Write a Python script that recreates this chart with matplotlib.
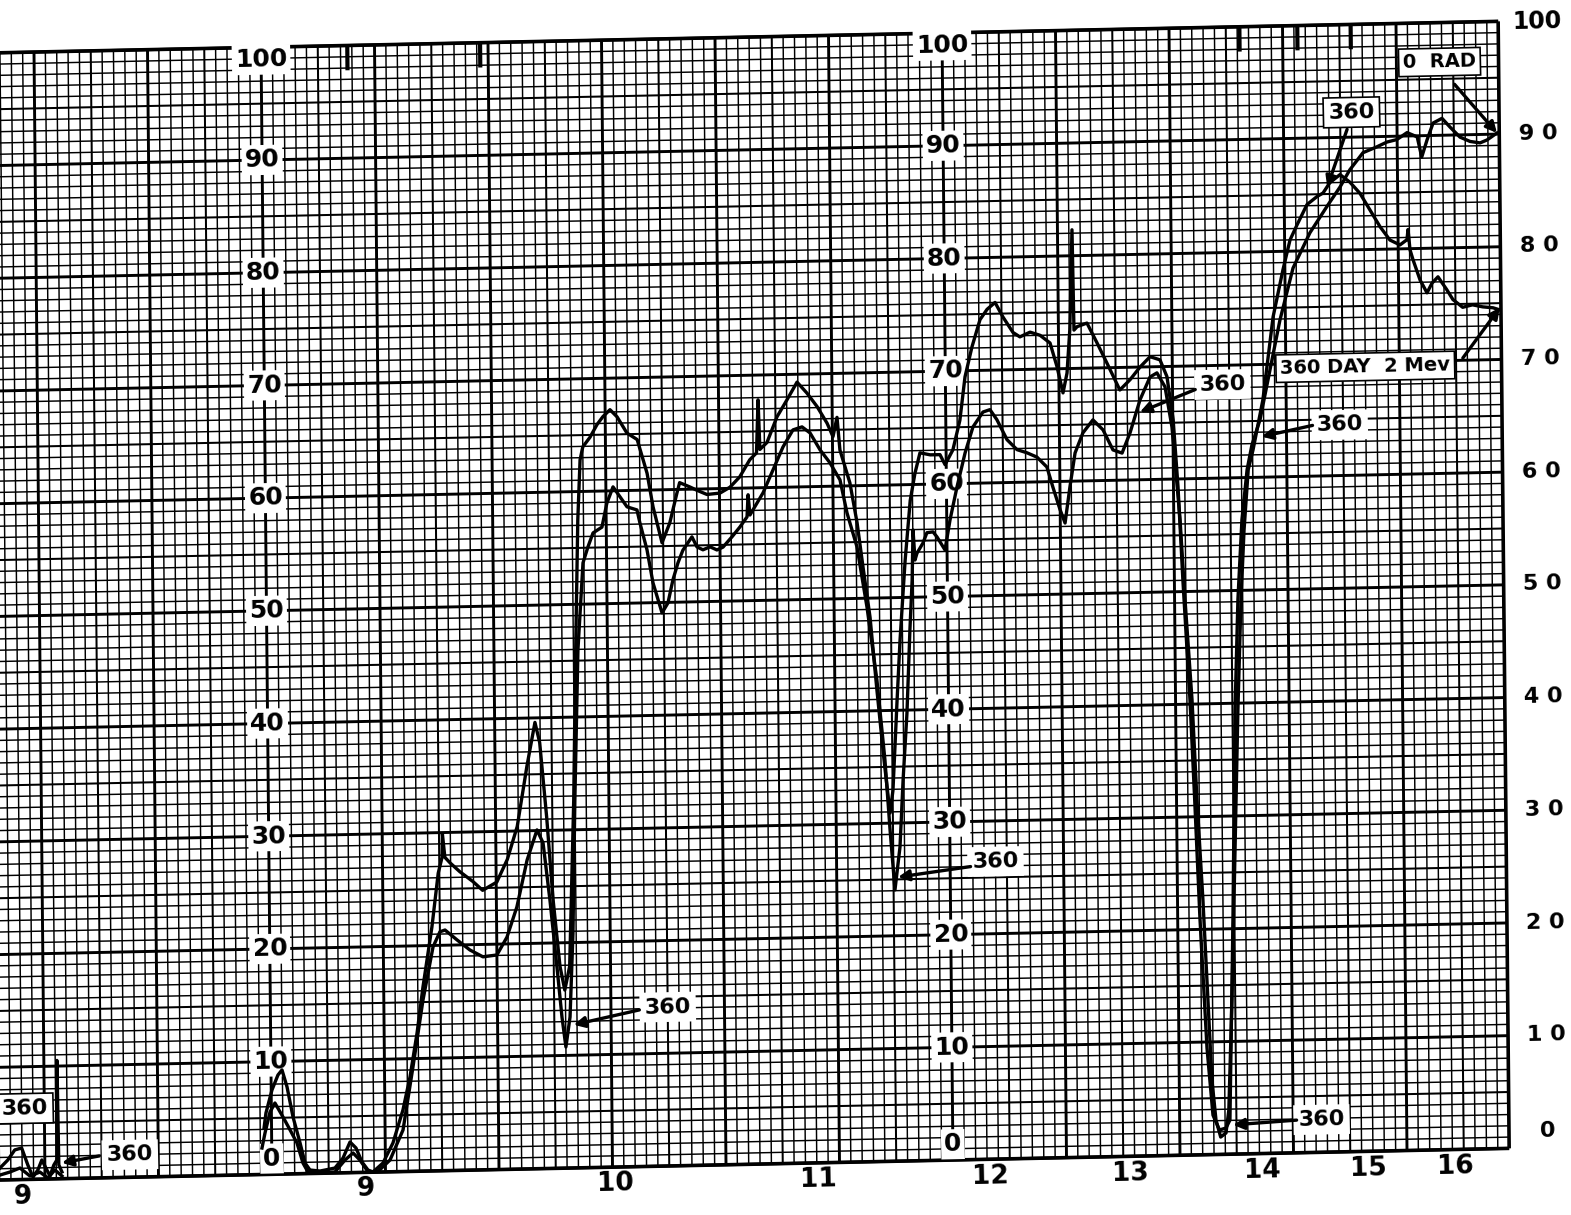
"""Strip-chart recording: two traces on 10x10 chart paper, redrawn with matplotlib.

The paper in the scan is slightly skewed, so every artist goes through the axes
data transform followed by a small display-space shear.
"""
import math

import matplotlib
matplotlib.use("Agg")
import matplotlib.pyplot as plt
import matplotlib.transforms as mtransforms
from matplotlib.collections import LineCollection

# ---------------------------------------------------------------------------
# data, in chart-paper units: u = minor divisions along the strip, v = percent
# ---------------------------------------------------------------------------
trace_a_u = [
    -0.66, -0.48, 0.07, 0.61, 0.97, 1.40, 1.90, 2.50, 2.92, 3.35,
    4.23, 5.55, 6.27, 6.90, 7.42, 7.94, 8.46, 8.90, 9.79, 10.68,
    11.59, 12.24, 12.90, 13.46, 14.30, 14.90, 15.25, 15.30, 15.50, 15.95,
    16.80, 17.95, 18.80, 20.05, 21.00, 21.90, 22.80, 23.55, 23.95, 24.50,
    25.00, 25.55, 25.95, 26.40, 26.60, 26.90, 27.20, 27.50, 27.75, 28.00,
    28.65, 29.27, 29.80, 30.43, 31.05, 31.90, 32.80, 33.64, 34.14, 34.90,
    35.60, 36.26, 36.50, 37.40, 38.00, 38.90, 40.05, 40.93, 41.80, 42.70,
    43.30, 43.48, 43.60, 44.23, 45.13, 46.03, 46.93, 47.80, 48.67, 49.54,
    50.05, 50.42, 50.65, 51.50, 52.10, 52.58, 53.16, 53.70, 54.27, 54.75,
    55.03, 55.47, 55.78, 56.30, 56.80, 57.24, 57.70, 58.60, 59.46, 59.90,
    60.60, 61.24, 61.73, 62.37, 63.10, 63.73, 64.44, 65.12, 66.00, 66.60,
    67.50, 68.38, 69.25, 69.84, 70.35, 70.72, 71.00, 71.28, 71.37, 71.65,
    72.52, 73.40, 74.25, 75.36, 76.27, 77.16, 78.05, 78.92, 79.52, 80.03,
    80.40, 80.75, 81.27, 81.60, 81.96, 82.47, 82.94, 83.50, 84.07, 84.43,
    84.87, 85.23, 85.58, 86.00, 86.50, 86.95, 87.68, 88.60, 89.52, 90.72,
    92.24, 93.76, 94.93, 95.80, 96.98, 98.22, 99.10, 99.97, 100.88, 101.77,
    102.15, 102.63, 103.18, 103.97, 104.68, 105.54, 106.42, 107.30, 107.92, 108.80,
]
trace_a_v = [
    4.12, 5.45, 7.48, 8.80, 9.24, 7.72, 5.05, 2.72, 0.94, 0.31,
    0.20, 0.44, 1.31, 2.72, 2.18, 0.92, 0.20, 0.02, 0.80, 2.55,
    5.46, 8.38, 12.27, 16.34, 21.65, 26.40, 27.80, 29.90, 27.80, 27.30,
    26.50, 25.60, 24.80, 25.50, 27.50, 30.40, 35.70, 39.60, 37.80, 31.20,
    23.80, 17.90, 15.80, 17.90, 23.80, 32.65, 45.95, 57.50, 62.80, 63.95,
    64.80, 65.90, 66.60, 67.20, 66.55, 65.10, 64.50, 61.50, 58.50, 55.30,
    57.05, 59.70, 60.60, 60.20, 59.90, 59.50, 59.60, 60.10, 61.00, 62.50,
    63.10, 67.80, 63.40, 64.00, 66.25, 67.75, 69.30, 68.30, 67.10, 65.60,
    64.40, 66.10, 63.20, 60.26, 56.70, 52.80, 48.30, 41.85, 35.60, 30.90,
    32.90, 40.90, 46.20, 53.30, 58.60, 61.00, 62.80, 62.60, 62.60, 61.70,
    63.00, 65.60, 69.45, 72.10, 74.50, 75.40, 76.00, 74.70, 73.30, 72.90,
    73.30, 73.00, 72.30, 70.20, 67.85, 69.60, 73.40, 82.30, 73.40, 73.70,
    74.00, 72.20, 70.40, 68.00, 68.90, 70.00, 70.90, 70.60, 69.10, 65.25,
    59.30, 51.00, 40.40, 31.50, 21.00, 9.47, 3.50, 2.17, 2.33, 3.03,
    20.95, 39.30, 49.20, 56.25, 60.70, 62.90, 65.10, 69.50, 73.90, 78.50,
    81.60, 83.90, 85.60, 87.10, 88.60, 89.10, 89.50, 89.70, 90.30, 89.90,
    88.10, 89.60, 91.10, 91.50, 90.70, 89.80, 89.40, 89.25, 89.50, 90.10,
]

trace_b_u = [
    -0.86, -0.58, -0.12, 0.32, 1.02, 1.63, 2.23, 2.74, 3.17, 4.23,
    5.55, 6.44, 7.16, 7.76, 8.46, 9.34, 10.41, 11.58, 12.51, 13.45,
    14.38, 15.00, 15.45, 16.50, 17.63, 18.77, 20.00, 20.90, 21.80, 22.74,
    23.64, 24.16, 24.72, 25.28, 25.68, 26.00, 26.39, 26.72, 27.00, 27.40,
    27.92, 28.37, 28.83, 29.62, 30.07, 30.63, 31.24, 31.85, 32.72, 32.97,
    33.57, 34.07, 34.84, 35.37, 35.83, 36.29, 36.73, 37.54, 37.97, 38.50,
    39.13, 39.73, 40.27, 41.07, 41.78, 42.41, 42.52, 42.67, 42.94, 43.84,
    44.74, 45.64, 46.53, 47.33, 48.03, 48.90, 49.76, 50.63, 51.22, 52.07,
    52.90, 53.71, 54.35, 54.74, 55.12, 55.60, 55.93, 56.33, 56.66, 56.90,
    57.02, 57.17, 57.35, 57.89, 58.24, 58.78, 59.13, 59.82, 60.29, 60.93,
    61.67, 62.39, 63.28, 63.90, 64.50, 65.38, 66.25, 67.13, 68.00, 68.87,
    69.38, 69.99, 70.42, 70.88, 71.36, 72.07, 72.96, 73.84, 74.70, 75.50,
    76.22, 77.13, 78.03, 78.64, 79.34, 79.92, 80.55, 80.92, 81.45, 81.80,
    82.24, 82.60, 82.88, 83.20, 83.60, 84.07, 84.34, 84.71, 85.11, 85.48,
    85.85, 86.18, 86.60, 87.04, 87.95, 88.92, 89.83, 90.48, 91.10, 92.00,
    92.90, 93.43, 94.03, 94.94, 95.81, 96.68, 97.55, 98.42, 99.28, 100.16,
    100.78, 100.88, 101.04, 101.30, 101.90, 102.50, 102.95, 103.48, 104.24, 104.78,
    105.63, 106.50, 107.40, 108.30, 108.90,
]
trace_b_v = [
    2.35, 3.68, 5.53, 6.32, 5.06, 3.90, 2.73, 0.94, 0.14, 0.05,
    0.09, 1.13, 1.74, 1.10, 0.05, 0.05, 1.05, 3.69, 9.26, 15.18,
    19.87, 21.20, 21.35, 20.45, 19.53, 18.90, 19.04, 20.60, 23.26, 27.40,
    30.06, 28.90, 23.80, 17.86, 13.40, 10.75, 13.40, 20.85, 32.65, 45.95,
    53.66, 55.07, 56.30, 56.80, 58.90, 60.35, 59.45, 58.55, 58.26, 57.10,
    54.70, 51.76, 49.08, 49.95, 52.00, 53.50, 54.60, 55.77, 54.87, 54.60,
    54.85, 54.56, 54.80, 55.70, 56.56, 57.44, 59.40, 57.60, 58.05, 59.54,
    61.56, 63.58, 65.07, 65.32, 64.77, 63.25, 62.08, 60.55, 57.60, 54.57,
    49.20, 42.73, 35.60, 29.40, 24.07, 27.87, 33.80, 39.75, 47.10, 51.54,
    55.97, 53.30, 53.90, 54.80, 55.70, 55.76, 55.30, 54.14, 56.80, 59.70,
    62.70, 65.00, 66.30, 66.50, 65.60, 63.80, 62.90, 62.60, 62.20, 61.30,
    59.50, 57.50, 56.30, 59.50, 62.50, 64.27, 65.40, 64.50, 62.70, 62.40,
    64.18, 67.10, 69.10, 69.45, 68.20, 64.60, 56.40, 49.26, 40.40, 31.50,
    22.60, 13.72, 6.60, 3.06, 1.54, 1.89, 3.92, 13.68, 26.98, 39.30,
    49.15, 55.36, 60.70, 62.44, 66.86, 74.20, 78.36, 81.00, 82.30, 84.10,
    84.80, 85.10, 86.00, 86.70, 86.00, 85.00, 83.50, 82.00, 80.80, 80.35,
    80.80, 81.70, 79.90, 79.00, 77.20, 76.05, 76.90, 77.45, 76.30, 75.40,
    74.70, 74.90, 74.70, 74.60, 74.40,
]

# fragment of the previous run at the very left edge of the sheet
stub_a_u = [-23.96, -23.26, -22.64, -22.03, -21.50, -21.06, -20.62, -20.26,
            -19.91, -19.56, -19.21, -18.94, -18.85, -18.77, -18.50]
stub_a_v = [1.06, 1.76, 2.64, 2.80, 1.28, 0.20, 0.82, 1.70,
            0.98, 0.26, 1.23, 1.67, 10.50, 1.23, 0.60]
stub_b_u = [-23.96, -23.08, -22.20, -21.32, -20.44, -19.74, -19.12, -18.50]
stub_b_v = [0.44, 0.69, 1.03, 0.30, 0.63, 0.09, 0.79, 0.24]

# printed scales
scale_values = [0, 10, 20, 30, 40, 50, 60, 70, 80, 90, 100]
inner_scale_columns = [0, 60]
day_labels = ["9", "9", "10", "11", "12", "13", "14", "15", "16"]
day_label_u = [-22.0, 8.2, 30.2, 48.1, 63.3, 75.6, 87.2, 96.6, 104.2]

# pen marks hanging from the top edge
pen_mark_u = [7.6, 19.3, 86.2, 91.3, 96.0]

# callouts: text, text position, arrow tail, arrow tip (None = no arrow)
callouts = [
    ("360", (-21.7, 6.3), None, None),
    ("360", (-12.5, 2.0), (-15.2, 1.95), (-18.5, 1.4)),
    ("360", (35.0, 14.1), (32.5, 13.9), (26.7, 12.7)),
    ("360", (64.0, 26.4), (61.8, 26.0), (55.4, 25.2)),
    ("360", (84.4, 68.3), (82.0, 67.9), (77.1, 66.0)),
    ("360", (94.7, 64.5), (92.3, 64.5), (87.8, 63.6)),
    ("360", (96.0, 92.2), (95.6, 90.7), (93.8, 85.6)),
    ("360", (92.5, 2.9), (90.3, 2.9), (84.7, 2.6)),
    ("0  RAD", (103.8, 96.5), (105.1, 94.5), (108.8, 90.1)),
    ("360 DAY  2 Mev", (97.0, 69.6), (105.6, 70.2), (108.9, 74.6)),
]
boxed = {0, 6, 8, 9}

# ---------------------------------------------------------------------------
# figure / paper geometry
# ---------------------------------------------------------------------------
W, H = 1571, 1215
DIV_X, DIV_Y = 11.35, 11.27          # pixels per division
ORIGIN = (272.0, 40.7)                 # pixel position of u=0, v=0 (from bottom)
U_LEFT, U_RIGHT = -26, 109

fig = plt.figure(figsize=(W / 100, H / 100), dpi=100)
ax = fig.add_axes([0, 0, 1, 1])
ax.set_xlim(-ORIGIN[0] / DIV_X, (W - ORIGIN[0]) / DIV_X)
ax.set_ylim(-ORIGIN[1] / DIV_Y, (H - ORIGIN[1]) / DIV_Y)
ax.axis("off")

skew = (mtransforms.Affine2D()
        .translate(-ORIGIN[0], -ORIGIN[1])
        .skew(math.atan(-0.00976), math.atan(0.02097))
        .translate(ORIGIN[0], ORIGIN[1]))
paper = ax.transData + skew
TILT = math.degrees(math.atan(0.02097))

# grid
def grid_lines(step_filter):
    segs = []
    for v in range(0, 101):
        if step_filter(v):
            segs.append([(U_LEFT, v), (U_RIGHT, v)])
    for u in range(-24, U_RIGHT):
        if step_filter(u):
            segs.append([(u, 0), (u, 100)])
    return segs

minor = grid_lines(lambda k: k % 5 != 0)
medium = grid_lines(lambda k: k % 5 == 0 and k % 10 != 0)
major = grid_lines(lambda k: k % 10 == 0)
for segs, lw in ((minor, 1.05), (medium, 1.45), (major, 2.1)):
    ax.add_collection(LineCollection(segs, colors="black", linewidths=lw,
                                     transform=paper, capstyle="butt"))

# sheet edges
edges = [[(U_LEFT, 0), (U_RIGHT, 0)], [(U_LEFT, 100), (U_RIGHT, 100)],
         [(U_RIGHT, 0), (U_RIGHT, 100)]]
ax.add_collection(LineCollection(edges, colors="black", linewidths=2.6,
                                 transform=paper))
ax.add_collection(LineCollection([[(u, 100), (u, 97.8)] for u in pen_mark_u],
                                 colors="black", linewidths=3.0, transform=paper))

# traces
for uu, vv in ((trace_a_u, trace_a_v), (trace_b_u, trace_b_v),
               (stub_a_u, stub_a_v), (stub_b_u, stub_b_v)):
    ax.plot(uu, vv, color="black", lw=2.4, solid_joinstyle="round",
            transform=paper, zorder=5)

# inner printed scales (white patches in the paper)
label_box = dict(boxstyle="square,pad=0.12", fc="white", ec="none")
for col in inner_scale_columns:
    for val in scale_values:
        vpos = {0: 1.4, 100: 98.9}.get(val, val)
        ax.text(col, vpos, str(val), transform=paper, ha="center", va="center",
                fontsize=18, fontweight="bold", rotation=TILT, bbox=label_box,
                zorder=4)

# right-hand scale, outside the sheet
for val in scale_values:
    if val == 100:
        txt, vpos, size = "100", 99.9, 17
    elif val == 0:
        txt, vpos, size = "0", 1.5, 16
    else:
        txt, vpos, size = " ".join(str(val)), val, 16
    ax.text(112.4, vpos, txt, transform=paper, ha="center", va="center",
            fontsize=size, fontweight="bold", rotation=TILT)

# day numbers under the sheet
for lab, u in zip(day_labels, day_label_u):
    ax.text(u, -1.5, lab, transform=paper, ha="center", va="center",
            fontsize=19, fontweight="bold", rotation=TILT)

# callouts
for i, (txt, pos, tail, tip) in enumerate(callouts):
    box = dict(boxstyle="square,pad=0.22", fc="white",
               ec="black" if i in boxed else "none", lw=1.2)
    small = "RAD" in txt or "DAY" in txt
    ax.text(pos[0], pos[1], txt, transform=paper, ha="center", va="center",
            fontsize=14 if small else 16, fontweight="bold",
            rotation=TILT, bbox=box, zorder=6)
    if tail is not None:
        ax.annotate("", xy=tip, xytext=tail, xycoords=paper, textcoords=paper,
                    arrowprops=dict(arrowstyle="-|>", color="black", lw=2.4,
                                    mutation_scale=16, shrinkA=0, shrinkB=0),
                    zorder=6)

fig.savefig("out.png", dpi=100, facecolor="white")
